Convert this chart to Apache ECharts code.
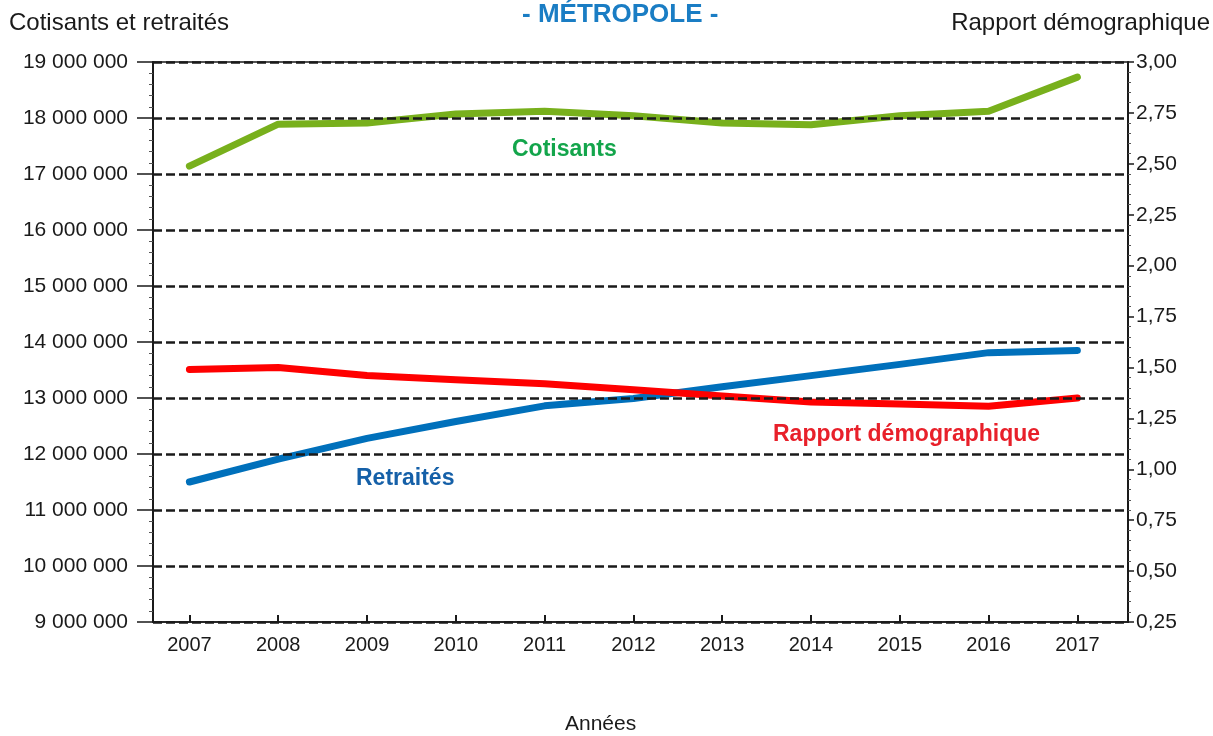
<!DOCTYPE html>
<html>
<head>
<meta charset="utf-8">
<script src="https://cdn.jsdelivr.net/npm/echarts@6/dist/echarts.min.js"></script>
<style>
  html, body { margin: 0; padding: 0; background: #fff; }
  #chart { width: 1213px; height: 736px; }
</style>
</head>
<body>
<div id="chart"></div>
<script>
// données
const years = [2007, 2008, 2009, 2010, 2011, 2012, 2013, 2014, 2015, 2016, 2017]
const cotisants = [17140000, 17890000, 17910000, 18070000, 18120000, 18040000, 17910000, 17880000, 18040000, 18120000, 18730000]
const retraites = [11500000, 11910000, 12280000, 12580000, 12860000, 12990000, 13200000, 13400000, 13600000, 13810000, 13850000]
const rapport = [1.49, 1.50, 1.46, 1.44, 1.42, 1.39, 1.36, 1.33, 1.32, 1.31, 1.35]

const pairs = arr => years.map((y, i) => [y, arr[i]])
const font = 'Liberation Sans, Arial, sans-serif'
const ink = '#1a1a1a'

const chart = echarts.init(document.getElementById('chart'))

const option = {
  animation: false,
  textStyle: { fontFamily: font },
  grid: {
    left: 153, right: 85, top: 62, bottom: 114,
    show: true, borderColor: ink, borderWidth: 1.5, backgroundColor: 'transparent'
  },
  xAxis: {
    type: 'value',
    min: 2006.59,
    max: 2017.57,
    axisLine: { show: true, lineStyle: { color: ink, width: 1.5 } },
    axisTick: { show: true, inside: true, length: 7, customValues: years, lineStyle: { color: ink, width: 2 } },
    axisLabel: { customValues: years, formatter: v => String(v), color: ink, fontSize: 20, margin: 13 },
    splitLine: { show: false }
  },
  yAxis: [
    {
      type: 'value',
      min: 9000000,
      max: 19000000,
      interval: 1000000,
      z: 10,
      axisLine: { show: true, lineStyle: { color: ink, width: 2 } },
      axisTick: { show: true, length: 16, lineStyle: { color: ink, width: 1.5 } },
      minorTick: { show: true, splitNumber: 5, length: 4, lineStyle: { color: '#555' } },
      axisLabel: {
        color: ink, fontSize: 21, margin: 25,
        formatter: v => String(v).replace(/\B(?=(\d{3})+(?!\d))/g, ' ')
      },
      splitLine: { show: true, lineStyle: { color: ink, width: 2.5, type: [9, 4] } }
    },
    {
      type: 'value',
      min: 0.25,
      max: 3,
      interval: 0.25,
      position: 'right',
      z: 10,
      axisLine: { show: true, lineStyle: { color: ink, width: 2 } },
      axisTick: { show: true, length: 6, lineStyle: { color: ink, width: 1.5 } },
      minorTick: { show: true, splitNumber: 5, length: 3, lineStyle: { color: '#555' } },
      axisLabel: { color: ink, fontSize: 21, margin: 8, formatter: v => v.toFixed(2).replace('.', ',') },
      splitLine: { show: false }
    }
  ],
  series: [
    {
      name: 'Cotisants', type: 'line', data: pairs(cotisants),
      showSymbol: false, z: 3,
      lineStyle: { color: '#78b01c', width: 7, cap: 'round', join: 'round' }
    },
    {
      name: 'Retraités', type: 'line', data: pairs(retraites),
      showSymbol: false, z: 3,
      lineStyle: { color: '#0070bb', width: 7, cap: 'round', join: 'round' }
    },
    {
      name: 'Rapport démographique', type: 'line', yAxisIndex: 1, data: pairs(rapport),
      showSymbol: false, z: 4,
      lineStyle: { color: '#ff0000', width: 7, cap: 'round', join: 'round' }
    }
  ],
  graphic: [
    { type: 'text', left: 522, top: 2, style: { text: '- MÉTROPOLE -', fill: '#1a7dc4', font: 'bold 26px ' + font } },
    { type: 'text', left: 9, top: 11, style: { text: 'Cotisants et retraités', fill: ink, font: '24px ' + font } },
    { type: 'text', right: 3, top: 11, style: { text: 'Rapport démographique', fill: ink, font: '24px ' + font } },
    { type: 'text', left: 565, top: 714, style: { text: 'Années', fill: ink, font: '21px ' + font } },
    { type: 'text', left: 512, top: 138, style: { text: 'Cotisants', fill: '#13a54b', font: 'bold 23px ' + font } },
    { type: 'text', left: 356, top: 467, style: { text: 'Retraités', fill: '#1560a8', font: 'bold 23px ' + font } },
    { type: 'text', left: 773, top: 423, style: { text: 'Rapport démographique', fill: '#e8202a', font: 'bold 23px ' + font } }
  ]
}

chart.setOption(option)
</script>
</body>
</html>
